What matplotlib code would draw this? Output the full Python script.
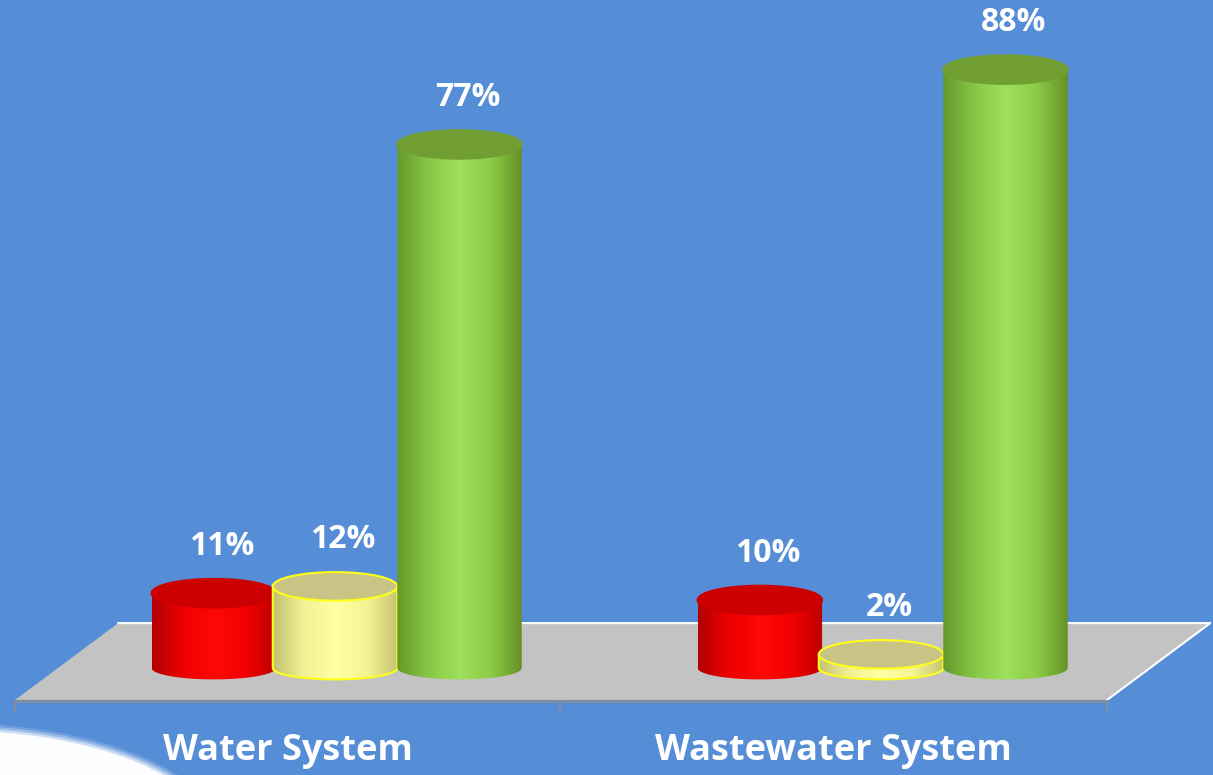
import numpy as np
import matplotlib.pyplot as plt
from matplotlib.patches import Ellipse, Polygon, PathPatch
from matplotlib.path import Path
from matplotlib.colors import LinearSegmentedColormap

# values (percent) per system
categories = ["Water System", "Wastewater System"]
red_vals = [11, 10]
yellow_vals = [12, 2]
green_vals = [77, 88]
value_labels = [["11%", "12%", "77%"], ["10%", "2%", "88%"]]

BG = "#558ED6"
FLOOR = "#C3C3C3"

bar_w = 0.228
offsets = [-0.222, 0.0, 0.228]
ry = 2.1  # half height of the ellipse caps, in percent units

shades = {
    "red": dict(stops=[(0.70, 0, 0), (0.93, 0, 0), (1.0, 0.03, 0.03), (0.95, 0, 0), (0.74, 0, 0)],
                top=(0.80, 0.0, 0.0), edge=None),
    "yellow": dict(stops=[(0.76, 0.76, 0.45), (0.95, 0.95, 0.58), (1.0, 1.0, 0.64), (0.96, 0.96, 0.58), (0.78, 0.76, 0.45)],
                   top=(0.79, 0.77, 0.52), edge=(1.0, 1.0, 0.1)),
    "green": dict(stops=[(0.40, 0.60, 0.17), (0.53, 0.78, 0.27), (0.62, 0.88, 0.36), (0.55, 0.80, 0.28), (0.40, 0.57, 0.15)],
                  top=(0.44, 0.62, 0.20), edge=None),
}


def cylinder(ax, xc, height, style, z):
    st = shades[style]
    x0, x1 = xc - bar_w / 2, xc + bar_w / 2
    th = np.linspace(np.pi, 2 * np.pi, 60)
    verts = [(xc + bar_w / 2 * np.cos(t), 0.8 * ry * np.sin(t)) for t in th]
    verts += [(x1, height), (x0, height), verts[0]]
    codes = [Path.MOVETO] + [Path.LINETO] * (len(verts) - 2) + [Path.CLOSEPOLY]
    body = PathPatch(Path(verts, codes), fc="none", ec="none", zorder=z)
    ax.add_patch(body)

    cmap = LinearSegmentedColormap.from_list(style, st["stops"])
    grad = np.linspace(0, 1, 256)[None, :]
    im = ax.imshow(grad, cmap=cmap, extent=(x0, x1, -ry, height), aspect="auto",
                   interpolation="bilinear", zorder=z)
    im.set_clip_path(body)

    if st["edge"] is not None:
        ax.add_patch(PathPatch(Path(verts, codes), fc="none", ec=st["edge"], lw=1.5, zorder=z + 0.1))
    ax.add_patch(Ellipse((xc, height), bar_w, 2 * ry, fc=st["top"],
                         ec=st["edge"] if st["edge"] else st["top"], lw=1.5, zorder=z + 0.2))


fig = plt.figure(figsize=(12.13, 7.75), dpi=100)
fig.patch.set_facecolor(BG)
ax = fig.add_axes([0, 0, 1, 1])
ax.set_facecolor(BG)
ax.axis("off")

# soft white swoosh in the lower left corner
for k, a in enumerate([0.15, 0.3, 0.5, 0.95]):
    grow = (3 - k) * 0.012
    ax.add_patch(Ellipse((-0.705, -24.6), 0.952 + grow, 30.9 + grow * 60,
                         fc="white", ec="none", alpha=a, zorder=0.5))

# floor
front, back = -4.7, 6.6
ax.add_patch(Polygon([(-0.586, front), (1.414, front), (1.603, back), (-0.397, back)],
                     closed=True, fc=FLOOR, ec="none", zorder=1))
ax.plot([-0.397, 1.603, 1.414], [back, back, front], color="white", lw=1.5, zorder=1.1)
ax.plot([-0.586, 1.414], [front - 0.2, front - 0.2], color="#7F8FA0", lw=2, zorder=1.1)
for xt in [-0.586, 0.412, 1.414]:
    ax.plot([xt, xt], [front - 0.2, front - 1.8], color="#8C8C8C", lw=1.2, zorder=1.1)

series = [("red", red_vals), ("yellow", yellow_vals), ("green", green_vals)]
for g, cat in enumerate(categories):
    for i, (style, vals) in enumerate(series):
        xc = g + offsets[i]
        cylinder(ax, xc, vals[g], style, z=2 + i)
        ax.text(xc + 0.015, vals[g] + 6.9, value_labels[g][i], color="white",
                fontsize=23, fontweight="bold", family="Open Sans",
                ha="center", va="center", zorder=10)
    ax.text(g - 0.087, -12.2, cat, color="white", fontsize=26, fontweight="bold",
            family="Open Sans", ha="center", va="center", zorder=10)

ax.set_xlim(-0.6136, 1.608)
ax.set_ylim(-15.74, 98.24)

fig.savefig("out.png", dpi=100, facecolor=BG)
